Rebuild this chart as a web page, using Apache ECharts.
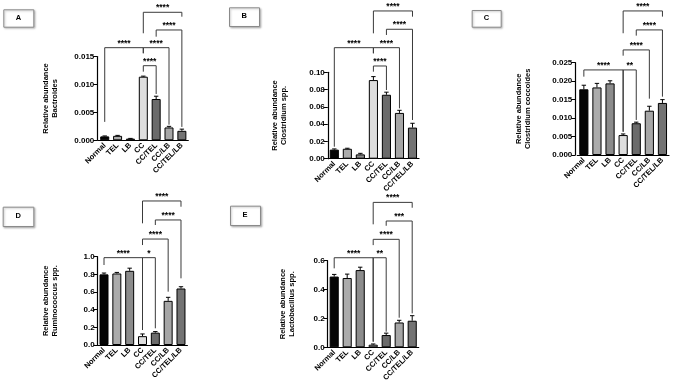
<!DOCTYPE html>
<html>
<head>
<meta charset="utf-8">
<script src="https://cdn.jsdelivr.net/npm/echarts@6/dist/echarts.min.js"></script>
<style>
html,body{margin:0;padding:0;background:#fff;}
#chart{width:685px;height:385px;}
</style>
</head>
<body>
<div id="chart"></div>
<script>
// ---------- data ----------
const categories = ['Normal', 'TEL', 'LB', 'CC', 'CC/TEL', 'CC/LB', 'CC/TEL/LB'];

const valuesA = [0.0007, 0.0008, 0.0003, 0.0114, 0.0074, 0.0023, 0.0017];
const errorsA = [0.00008, 0.00008, 0.00004, 0.0001, 0.0005, 0.0002, 0.0003];
const valuesB = [0.0105, 0.0115, 0.005, 0.091, 0.074, 0.053, 0.036];
const errorsB = [0.0008, 0.0006, 0.0012, 0.004, 0.003, 0.003, 0.005];
const valuesC = [0.0178, 0.0183, 0.0194, 0.0054, 0.0086, 0.0120, 0.0141];
const errorsC = [0.0011, 0.0011, 0.0007, 0.0003, 0.0003, 0.0012, 0.0009];
const valuesD = [0.80, 0.81, 0.84, 0.10, 0.14, 0.50, 0.64];
const errorsD = [0.015, 0.012, 0.03, 0.025, 0.012, 0.04, 0.02];
const valuesE = [0.49, 0.48, 0.535, 0.018, 0.085, 0.172, 0.184];
const errorsE = [0.015, 0.027, 0.02, 0.005, 0.013, 0.015, 0.035];

// significance comparisons: [group i, group j, bracket level, left leg end, right leg end, label]
const bracketsA = [
  [0, 3, 0.0166, 0.0033, 0.0156, '****'],
  [3, 5, 0.0166, 0.0156, 0.0028, '****'],
  [3, 4, 0.01337, 0.0123, 0.0083, '****'],
  [4, 6, 0.01977, 0.01857, 0.0024, '****'],
  [3, 6, 0.02294, 0.01918, 0.02215, '****']
];
const bracketsB = [
  [0, 3, 0.1285, 0.0139, 0.122, '****'],
  [3, 5, 0.1285, 0.122, 0.0583, '****'],
  [3, 4, 0.1073, 0.1007, 0.0795, '****'],
  [4, 6, 0.1498, 0.1432, 0.0448, '****'],
  [3, 6, 0.171, 0.1451, 0.1644, '****']
];
const bracketsC = [
  [0, 3, 0.02304, 0.02122, 0.0063, '****'],
  [3, 4, 0.02304, 0.0063, 0.00949, '**'],
  [3, 5, 0.02846, 0.0269, 0.01526, '****'],
  [4, 6, 0.03388, 0.03233, 0.0158, '****'],
  [3, 6, 0.03902, 0.03298, 0.03748, '****']
];
const bracketsD = [
  [0, 3, 0.989, 0.906, 0.17, '****'],
  [3, 4, 0.989, 0.17, 0.189, '*'],
  [3, 5, 1.2, 1.132, 0.604, '****'],
  [4, 6, 1.416, 1.359, 0.755, '****'],
  [3, 6, 1.631, 1.378, 1.566, '****']
];
const bracketsE = [
  [0, 3, 0.6205, 0.547, 0.039, '****'],
  [3, 4, 0.6205, 0.039, 0.108, '**'],
  [3, 5, 0.748, 0.708, 0.205, '****'],
  [4, 6, 0.875, 0.842, 0.235, '***'],
  [3, 6, 1.004, 0.852, 0.967, '****']
];

const panelLetters = ['A', 'B', 'C', 'D', 'E'];
const taxa = ['Bactroides', 'Clostridium spp.', 'Clostridium coccoides', 'Ruminococcus spp.', 'Lactobacillus spp.'];
const yMax = [0.015, 0.10, 0.025, 1.0, 0.6];
const yStep = [0.005, 0.02, 0.005, 0.2, 0.2];
const yDecimals = [3, 2, 3, 1, 1];

// ---------- styling / layout ----------
const barColors = ['#050505', '#ababab', '#8c8c8c', '#dedede', '#6b6b6b', '#a6a6a6', '#737373'];
const FONT = 'Liberation Sans, Arial, Helvetica, sans-serif';
const panels = [
  {vals: valuesA, errs: errorsA, br: bracketsA, grid: {left: 98.3, top: 56.6, width: 90, height: 83.7}, off: 1, gap: 38,
   box: [3.3, 9.3, 30, 17.4]},
  {vals: valuesB, errs: errorsB, br: bracketsB, grid: {left: 327.8, top: 72.3, width: 91.2, height: 86.4}, off: 0, gap: 39.3,
   box: [229, 7.3, 30, 18.7]},
  {vals: valuesC, errs: errorsC, br: bracketsC, grid: {left: 577.3, top: 62.7, width: 91.7, height: 92.3}, off: 2, gap: 42.4,
   box: [471.7, 10, 29, 16.7]},
  {vals: valuesD, errs: errorsD, br: bracketsD, grid: {left: 97.6, top: 256.7, width: 89.8, height: 88.3}, off: 0, gap: 38,
   box: [2.7, 206.7, 30.6, 19.3]},
  {vals: valuesE, errs: errorsE, br: bracketsE, grid: {left: 327.7, top: 260.7, width: 91, height: 86.6}, off: 0, gap: 31.6,
   box: [230, 205.7, 30, 19.3]}
];

const grids = [], xAxes = [], yAxes = [], series = [], graphics = [];

panels.forEach((p, k) => {
  grids.push(Object.assign({containLabel: false}, p.grid));
  xAxes.push({
    type: 'category', gridIndex: k, data: categories,
    axisLine: {lineStyle: {color: '#000', width: 1.2}},
    axisTick: {alignWithLabel: true, length: 3, lineStyle: {color: '#000', width: 1}},
    axisLabel: {rotate: 45, margin: 4, fontSize: 7.5, fontWeight: 'bold', color: '#000', fontFamily: FONT, interval: 0}
  });
  yAxes.push({
    type: 'value', gridIndex: k, min: 0, max: yMax[k], interval: yStep[k], offset: p.off,
    name: 'Relative abundance\n' + taxa[k], nameLocation: 'middle', nameGap: p.gap,
    nameTextStyle: {fontSize: 7.5, fontWeight: 'bold', color: '#000', fontFamily: FONT, lineHeight: 9},
    axisLine: {show: true, lineStyle: {color: '#000', width: 1.2}},
    axisTick: {show: true, length: 4, lineStyle: {color: '#000', width: 1}},
    splitLine: {show: false},
    axisLabel: {fontSize: 8, fontWeight: 'bold', color: '#000', fontFamily: FONT, margin: 3,
      formatter: v => v.toFixed(yDecimals[k])}
  });
  series.push({
    type: 'bar', xAxisIndex: k, yAxisIndex: k, barWidth: '70%', z: 2,
    data: p.vals.map((v, i) => ({value: v, itemStyle: {color: barColors[i]}})),
    itemStyle: {borderColor: '#000', borderWidth: 1}
  });
  const vals = p.vals, errs = p.errs;
  series.push({
    type: 'custom', xAxisIndex: k, yAxisIndex: k, z: 3, clip: false,
    encode: {x: 0, y: 1},
    data: vals.map((v, i) => [i, v + errs[i]]),
    renderItem: (params, api) => {
      const i = params.dataIndex;
      const base = api.coord([i, vals[i]]);
      const top = api.coord([i, vals[i] + errs[i]]);
      const hw = 2.2;
      return {type: 'group', children: [
        {type: 'line', shape: {x1: base[0], y1: base[1], x2: top[0], y2: top[1]}, style: {stroke: '#000', lineWidth: 1}},
        {type: 'line', shape: {x1: top[0] - hw, y1: top[1], x2: top[0] + hw, y2: top[1]}, style: {stroke: '#000', lineWidth: 1}}
      ]};
    }
  });
  const br = p.br;
  series.push({
    type: 'custom', xAxisIndex: k, yAxisIndex: k, z: 4, clip: false,
    encode: {x: 0, y: 1},
    data: br.map(b => [b[0], b[2]]),
    renderItem: (params, api) => {
      const b = br[params.dataIndex];
      const pl = api.coord([b[0], b[3]]);
      const tl = api.coord([b[0], b[2]]);
      const tr = api.coord([b[1], b[2]]);
      const pr = api.coord([b[1], b[4]]);
      return {type: 'group', children: [
        {type: 'polyline', shape: {points: [pl, tl, tr, pr]}, style: {stroke: '#3a3a3a', lineWidth: 1, fill: null}},
        {type: 'text', x: (tl[0] + tr[0]) / 2, y: tl[1] - 4.5,
         style: {text: b[5], fill: '#000', font: 'bold 8.5px ' + FONT, textAlign: 'center', textVerticalAlign: 'middle'}}
      ]};
    }
  });
  const bx = p.box;
  graphics.push({
    type: 'rect', left: bx[0], top: bx[1], shape: {x: 0, y: 0, width: bx[2], height: bx[3]},
    style: {fill: '#fff', stroke: '#8a8a8a', lineWidth: 1, shadowBlur: 2, shadowColor: 'rgba(0,0,0,0.25)', shadowOffsetX: 1, shadowOffsetY: 1}
  });
  graphics.push({
    type: 'text', left: bx[0] + bx[2] / 2 - 2.5, top: bx[1] + bx[3] / 2 - 4.5,
    style: {text: panelLetters[k], fill: '#000', font: 'bold 7.5px ' + FONT}
  });
});

const chart = echarts.init(document.getElementById('chart'), null, {renderer: 'canvas'});
chart.setOption({
  animation: false,
  backgroundColor: '#fff',
  grid: grids,
  xAxis: xAxes,
  yAxis: yAxes,
  series: series,
  graphic: graphics
});
</script>
</body>
</html>
